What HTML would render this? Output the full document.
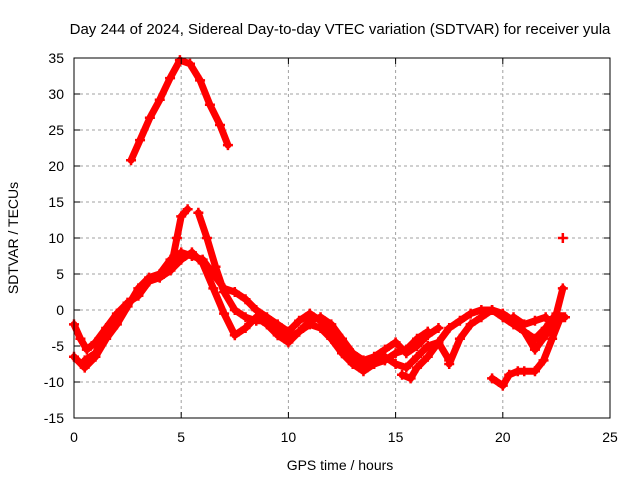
<!DOCTYPE html>
<html><head><meta charset="utf-8"><style>
body{margin:0;background:#fff}
svg{display:block;font-family:"Liberation Sans",sans-serif}
</style></head><body>
<svg id="chart" width="640" height="480">
<text x="340" y="34" font-size="15" text-anchor="middle">Day 244 of 2024, Sidereal Day-to-day VTEC variation (SDTVAR) for receiver yula</text>
<text x="340" y="470" font-size="14" text-anchor="middle">GPS time / hours</text>
<text x="18" y="238" font-size="14" text-anchor="middle" transform="rotate(-90 18 238)">SDTVAR / TECUs</text>
<g id="grid"></g>
<g id="marks"></g>
<rect x="74" y="58" width="536" height="360" fill="none" stroke="#000" stroke-width="1"/>
<g id="ticks"></g>
</svg>
<script>
const xTicks=[0,5,10,15,20,25];
const yTicks=[-15,-10,-5,0,5,10,15,20,25,30,35];
const trackA=[[2.66,20.8],[3.08,23.6],[3.54,26.7],[4.0,29.2],[4.48,32.2],[4.94,34.7],[5.41,34.2],[5.88,31.9],[6.34,28.5],[6.81,25.7],[7.18,22.9]];
const trackB=[[0,-2],[0.3,-4],[0.6,-5.5],[1,-4.5],[1.5,-2.5],[2,-0.5],[2.5,1],[3,2],[3.5,4],[4,4.5],[4.5,5.5],[4.8,10],[5,13],[5.3,14]];
const trackC=[[5.8,13.5],[6.2,10],[6.6,6],[7,2.5],[7.5,0],[8,-1],[8.5,-1.5],[9,-1.5],[9.5,-2.5],[10,-4],[10.5,-3],[11,-1.5],[11.5,-1],[12,-2],[12.5,-4],[13,-6],[13.5,-7],[14,-6.5],[14.5,-5.5],[15,-4.5],[15.5,-6],[16,-5],[16.5,-3.5],[17,-2.5]];
const trackD=[[0,-6.5],[0.5,-8],[1,-6.5],[1.5,-4],[2,-2],[2.5,0.5],[3,3],[3.5,4.5],[4,5],[4.5,7],[5,8],[5.5,7.5],[6,7],[6.5,5],[7,3],[7.5,2.5],[8,1.5],[8.5,0],[9,-1],[9.5,-2],[10,-3],[10.5,-1.5],[11,-0.5],[11.5,-1.5],[12,-3],[12.5,-5],[13,-7],[13.5,-8],[14,-7],[14.5,-6.5],[15,-7.5],[15.5,-8],[16,-6.5],[16.5,-5],[17,-4.5],[17.5,-7]];
const trackE=[[0.5,-7],[1,-6],[1.5,-3],[2,-1],[2.5,1],[3,2],[3.5,4],[4,4.5],[4.5,5.5],[5,7],[5.5,8],[6,6.5],[6.5,3],[7,-0.5],[7.5,-3.5],[8,-2.5],[8.5,-1],[9,-2],[9.5,-3.5],[10,-4.5],[10.5,-3],[11,-2],[11.5,-2.5],[12,-4],[12.5,-6],[13,-7.5],[13.5,-8.5],[14,-7.5],[14.5,-7],[15,-6],[15.5,-5.5],[16,-4],[16.5,-3]];
const trackF=[[15.3,-9],[15.7,-9.5],[16,-8],[16.5,-6.5],[17,-4.5],[17.5,-2.5],[18,-1.5],[18.5,-0.5],[19,0],[19.5,0],[20,-0.5],[20.5,-1.5],[21,-3],[21.5,-4],[22,-2.5],[22.5,-0.5],[22.8,3]];
const trackG=[[17.5,-7.5],[18,-4],[18.5,-2],[19,-1],[19.5,0],[20,-1],[20.5,-2],[21,-3],[21.5,-5.5],[22,-3.5],[22.5,-1.5],[22.8,-1]];
const trackH=[[19.5,-9.5],[20,-10.5],[20.3,-9],[20.7,-8.5],[21,-8.5],[21.5,-8.5],[21.9,-7],[22.3,-4],[22.7,-1],[22.9,-1]];
const trackI=[[20.5,-1],[21,-2],[21.5,-1.5],[22,-1]];
const trackJ=[[22.8,10]];
const tracks=[trackA,trackB,trackC,trackD,trackE,trackF,trackG,trackH,trackI,trackJ];
const NS="http://www.w3.org/2000/svg";
const X=t=>74+t*536/25, Y=v=>418-(v+15)*360/50;
const grid=document.getElementById('grid'),ticks=document.getElementById('ticks'),marks=document.getElementById('marks');
function mk(tag,attrs,parent){const e=document.createElementNS(NS,tag);for(const k in attrs)e.setAttribute(k,attrs[k]);parent.appendChild(e);return e;}
xTicks.forEach(t=>{
  if(t>0&&t<25){const g=mk('line',{x1:X(t),x2:X(t),y1:58,y2:418,stroke:'#a0a0a0','stroke-dasharray':'3,3'},grid);
  
  }
  mk('line',{x1:X(t),x2:X(t),y1:418,y2:412,stroke:'#000'},ticks);
  mk('line',{x1:X(t),x2:X(t),y1:58,y2:64,stroke:'#000'},ticks);
  const l=mk('text',{x:X(t),y:442,'font-size':14,'text-anchor':'middle'},ticks);l.textContent=t;
  
  
});
yTicks.forEach(v=>{
  if(v>-15&&v<35){const g=mk('line',{x1:74,x2:610,y1:Y(v),y2:Y(v),stroke:'#a0a0a0','stroke-dasharray':'3,3'},grid);
  
  }
  mk('line',{x1:74,x2:80,y1:Y(v),y2:Y(v),stroke:'#000'},ticks);
  mk('line',{x1:610,x2:604,y1:Y(v),y2:Y(v),stroke:'#000'},ticks);
  const l=mk('text',{x:64,y:Y(v)+5,'font-size':14,'text-anchor':'end'},ticks);l.textContent=v;
  
  
});
tracks.forEach(tr=>{
  if(tr.length>1){const p=mk('polyline',{points:tr.map(d=>X(d[0])+','+Y(d[1])).join(' '),fill:'none',stroke:'#ff0000','stroke-width':7,'stroke-linejoin':'round','stroke-linecap':'round'},marks);
  
  }
  tr.forEach(d=>{const c=mk('path',{d:`M${X(d[0])-5},${Y(d[1])}h10M${X(d[0])},${Y(d[1])-5}v10`,stroke:'#ff0000','stroke-width':2.5},marks);
  
  });
});
</script>
</body></html>
